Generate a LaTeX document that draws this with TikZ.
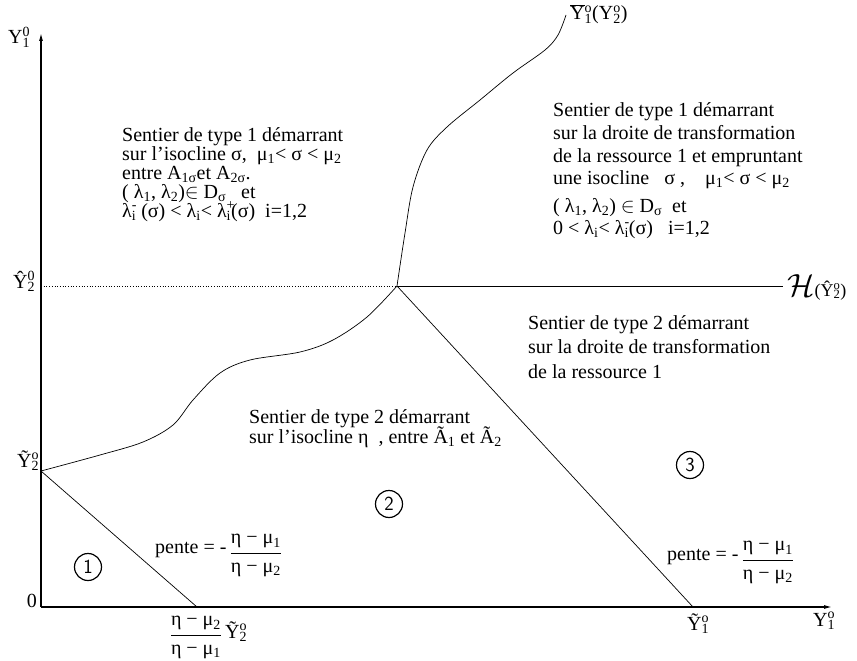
\documentclass[tikz,border=0pt]{standalone}
\usepackage{fontspec}
\setmainfont{Liberation Serif}
\usetikzlibrary{arrows.meta}
\newcommand\sps[2]{\rlap{\textsuperscript{#1}}\textsubscript{#2}}
\newcommand\oY{\ensuremath{\overline{\mbox{Y}}}}
\begin{document}
\begin{tikzpicture}[x=1pt,y=-1pt,
  txt/.style={anchor=base west, inner sep=0pt, font=\fontsize{20}{22}\selectfont},
  num/.style={circle, draw, line width=1.2pt, minimum size=27pt, inner sep=0pt, font=\fontsize{20}{20}\sffamily},
  thinline/.style={line width=0.7pt},
  axis/.style={line width=1.1pt, -{Latex[length=8pt,width=4pt]}}
]
\useasboundingbox (0,0) rectangle (857,661);
% key points
\coordinate (O) at (41,607);
\coordinate (Ytop) at (41,33);
\coordinate (Xend) at (832,607);
\coordinate (P2) at (41,471);
\coordinate (Q1) at (197,607);
\coordinate (K) at (397,286);
\coordinate (T1) at (693,607);
\coordinate (Hend) at (783,286);
\coordinate (Hy) at (41,286);
% axes
\draw[axis] (O) -- (Ytop);
\draw[axis] (O) -- (Xend);
% lines
\draw[thinline, dotted] (Hy) -- (K);
\draw[thinline] (K) -- (Hend);
\draw[thinline] (P2) -- (Q1);
\draw[thinline] (K) -- (T1);
% curves
\draw[thinline] plot[smooth, tension=0.55] coordinates {(41,471) (100,455) (143,442) (173,425) (193,400) (220,373) (250,360) (300,352) (333,340) (367,317) (397,286)};
\draw[thinline] plot[smooth, tension=0.55] coordinates {(397,286) (405,233) (413,187) (427,150) (447,127) (480,100) (513,73) (545,50) (558,35) (566,15)};
% axis labels
\node[txt] (ly) at (8,44) {Y\sps{0}{1}};
\node[txt, anchor=base east] (l0) at (37,607) {0};
\node[txt] (lt2) at (17,467) {\~{Y}\sps{o}{2}};
\node[txt] (lh2) at (13,288) {\^{Y}\sps{0}{2}};
\node[txt] (lx) at (813,626) {Y\sps{o}{1}};
\node[txt] (lt1) at (687,630) {\~{Y}\sps{o}{1}};
\node[txt] (lbar) at (570,20) {\oY\sps{o}{1}(Y\sps{o}{2})};
\node[anchor=base west, inner sep=0pt] (lH) at (787,296) {\fontsize{10}{12}\selectfont\scalebox{3.2}{$\mathcal{H}$}\fontsize{18}{18}\selectfont(\^{Y}\sps{o}{2})};
% block A
\node[txt] (a1) at (122,141) {Sentier de type 1 démarrant};
\node[txt] (a2) at (122,160) {sur l'isocline σ,\ \ μ\textsubscript{1}< σ < μ\textsubscript{2}};
\node[txt] (a3) at (122,179) {entre A\textsubscript{1σ}et A\textsubscript{2σ}.};
\node[txt] (a4) at (122,198) {( λ\textsubscript{1}, λ\textsubscript{2})\ensuremath{\in} D\textsubscript{σ}\ \ \ et};
\node[txt] (a5) at (122,217) {λ\sps{-}{i} (σ) < λ\textsubscript{i}< λ\sps{+}{i}(σ)\ \ i=1,2};
% block B
\node[txt] (b1) at (553,117) {Sentier de type 1 démarrant};
\node[txt] (b2) at (553,139) {sur la droite de transformation};
\node[txt] (b3) at (553,162) {de la ressource 1 et empruntant};
\node[txt] (b4) at (553,184) {une isocline\ \ \ σ ,\ \ \ \ μ\textsubscript{1}< σ < μ\textsubscript{2}};
\node[txt] (b5) at (553,212) {( λ\textsubscript{1}, λ\textsubscript{2}) \ensuremath{\in} D\textsubscript{σ}\ \ et};
\node[txt] (b6) at (553,234) {0 < λ\textsubscript{i}< λ\sps{-}{i}(σ)\ \ \ i=1,2};
% block C
\node[txt] (c1t) at (528,329) {Sentier de type 2 démarrant};
\node[txt] (c2t) at (528,353) {sur la droite de transformation};
\node[txt] (c3t) at (528,378) {de la ressource 1};
% block D
\node[txt] (d1) at (249,423) {Sentier de type 2 démarrant};
\node[txt] (d2) at (249,443) {sur l'isocline η\ \ , entre Ã\textsubscript{1} et Ã\textsubscript{2}};
% slopes
\node[txt] (p1) at (155,553) {pente = -\,\raisebox{-5pt}{$\displaystyle\frac{\mbox{η − μ\textsubscript{1}}}{\mbox{η − μ\textsubscript{2}}}$}};
\node[txt] (p2) at (667,560) {pente = -\,\raisebox{-5pt}{$\displaystyle\frac{\mbox{η − μ\textsubscript{1}}}{\mbox{η − μ\textsubscript{2}}}$}};
% fraction under x axis
\node[txt, anchor=base] (fr) at (196,640) {$\displaystyle\frac{\mbox{η − μ\textsubscript{2}}}{\mbox{η − μ\textsubscript{1}}}$};
\node[txt] (lt2b) at (225,638) {\~{Y}\sps{o}{2}};
% region numbers
\node[num] (n1) at (88,567) {1};
\node[num] (n2) at (389,504) {2};
\node[num] (n3) at (690,465) {3};
\end{tikzpicture}
\end{document}
